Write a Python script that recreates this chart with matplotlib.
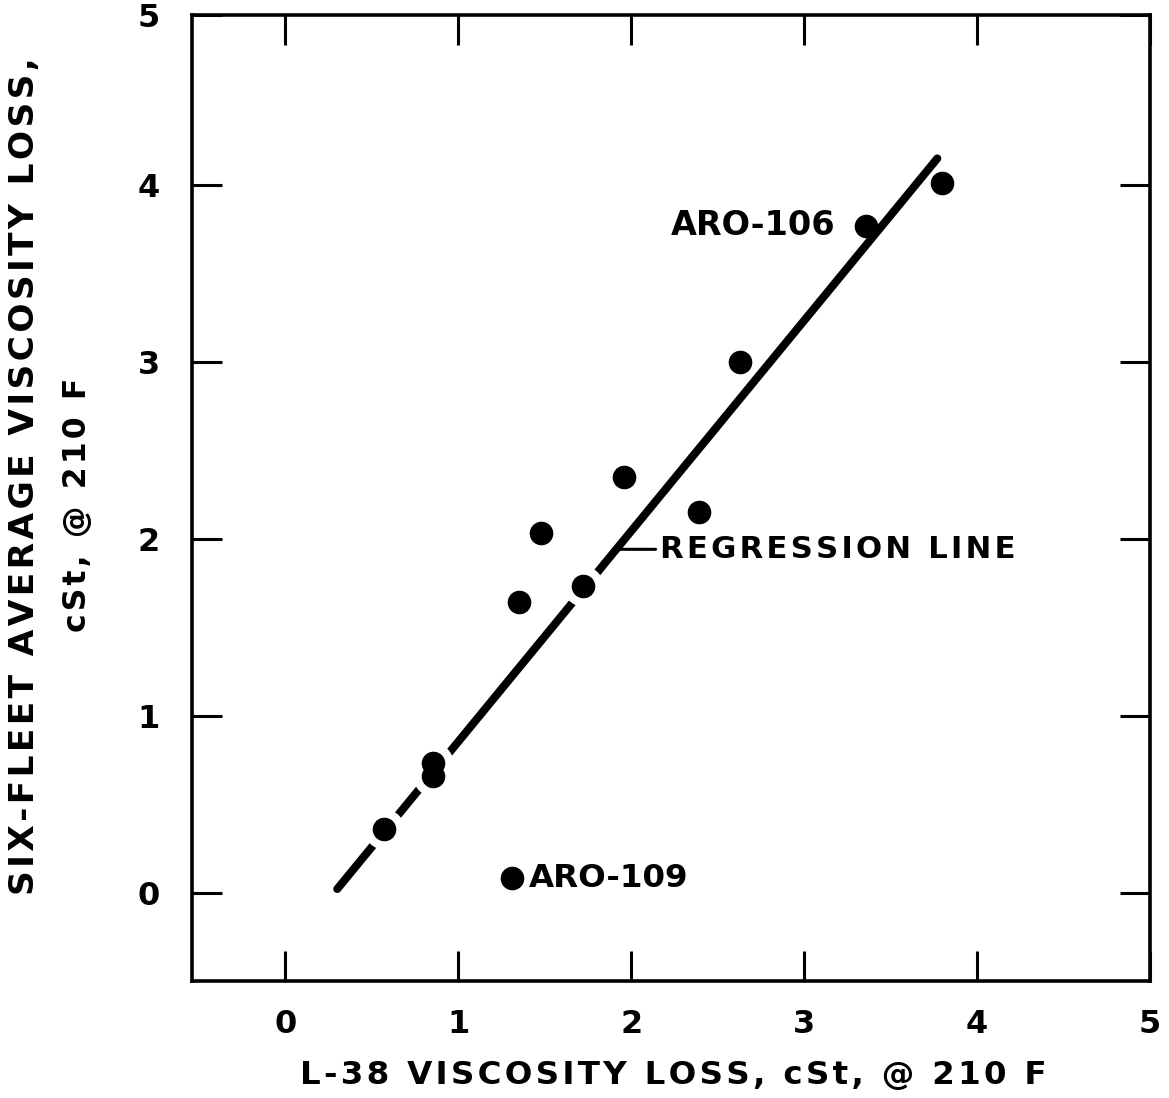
import numpy as np
import matplotlib
matplotlib.use("Agg")
import matplotlib.pyplot as plt
from matplotlib.text import Text

# L-38 viscosity loss vs six-fleet average viscosity loss (cSt @ 210 F)
l38_loss = [0.57, 0.855, 0.855, 1.31, 1.35, 1.48, 1.72, 1.96, 2.39, 2.63, 3.36, 3.80]
fleet_loss = [0.36, 0.73, 0.66, 0.08, 1.64, 2.03, 1.73, 2.35, 2.15, 3.00, 3.77, 4.01]

# regression line as drawn
REG_SLOPE = 1.19
REG_INTERCEPT = -0.337
REG_X = [0.30, 3.77]

x_ticks = [0, 1, 2, 3, 4, 5]
y_ticks = [0, 1, 2, 3, 4, 5]

FONT = dict(family="DejaVu Sans", weight="bold", size=23)
HAIR = "\u200a"

W, H = 1169, 1098
fig = plt.figure(figsize=(W / 100, H / 100), dpi=100)
ax = fig.add_axes([192 / W, 1 - 981 / H, (1150 - 192) / W, (981 - 15) / H])
renderer = fig.canvas.get_renderer()


def track(t, target_px, vertical=False, max_n=2, slack=0.08):
    """Letter-space a text evenly (hair spaces) and nudge its size to span target_px."""
    base = t.get_text()
    size0 = t.get_fontsize()
    best = None
    for n in range(max_n + 1):
        s = (HAIR * n).join(base)
        t.set_text(s)
        t.set_fontsize(size0)
        bb = Text.get_window_extent(t, renderer)
        w = bb.height if vertical else bb.width
        size = size0 * target_px / w
        size = min(max(size, size0 * (1 - slack)), size0 * (1 + slack))
        err = abs(w * size / size0 - target_px)
        if best is None or err < best[0]:
            best = (err, s, size)
    t.set_text(best[1])
    t.set_fontsize(best[2])
    return t


reg_x = np.array(REG_X)
reg_y = REG_INTERCEPT + REG_SLOPE * reg_x
ax.plot(reg_x, reg_y, color="black", lw=5.8, solid_capstyle="round", zorder=2)

# the line is broken where a point sits on it
xs = np.array(l38_loss)
ys = np.array(fleet_loss)
on_line = np.abs(ys - (REG_INTERCEPT + REG_SLOPE * xs)) < 0.1
ax.plot(xs[on_line], ys[on_line], "o", ms=29, color="white", mec="none", zorder=3)
ax.plot(xs, ys, "o", ms=17, color="black", mec="none", zorder=4)

ax.set_xlim(-0.54, 5.0)
ax.set_ylim(-0.5, 4.96)
ax.set_xticks(x_ticks)
# the top "5" sits on the frame edge
ax.set_yticks(y_ticks[:-1] + [ax.get_ylim()[1]])
ax.set_xticklabels([str(t) for t in x_ticks])
ax.set_yticklabels([str(t) for t in y_ticks])
ax.tick_params(direction="in", length=21.5, width=2.2, top=True, right=True)
ax.tick_params(axis="x", pad=20)
ax.tick_params(axis="y", pad=23)
for lab in ax.get_xticklabels() + ax.get_yticklabels():
    lab.set_fontfamily(FONT["family"])
    lab.set_fontweight(FONT["weight"])
    lab.set_fontsize(FONT["size"])
for sp in ax.spines.values():
    sp.set_linewidth(2.6)

# labels
a106 = ax.annotate("ARO-106", xy=(l38_loss[10], fleet_loss[10]), xytext=(-22, 0),
                   textcoords="offset points", ha="right", va="center", zorder=5, **FONT)
a109 = ax.annotate("ARO-109", xy=(l38_loss[3], fleet_loss[3]), xytext=(12, 0),
                   textcoords="offset points", ha="left", va="center", zorder=5, **FONT)
track(a106, 165)
track(a109, 160)

lead_y = 1.94
lead_x = (lead_y - REG_INTERCEPT) / REG_SLOPE
reg_lab = ax.annotate("REGRESSION LINE", xy=(lead_x, lead_y), xytext=(2.165, lead_y),
                      ha="left", va="center", zorder=5,
                      arrowprops=dict(arrowstyle="-", lw=2.2, color="black",
                                      shrinkA=1, shrinkB=0), **FONT)
track(reg_lab, 355)

xl = fig.text(673 / W, 1 - 1075 / H, "L-38 VISCOSITY LOSS, cSt, @ 210 F",
              ha="center", va="center", **FONT)
yl1 = fig.text(25 / W, 1 - 476 / H, "SIX-FLEET AVERAGE VISCOSITY LOSS,",
               ha="center", va="center", rotation=90, **FONT)
yl2 = fig.text(77 / W, 1 - 505 / H, "cSt, @ 210 F",
               ha="center", va="center", rotation=90, **FONT)
track(xl, 747)
track(yl1, 843, vertical=True)
track(yl2, 256, vertical=True)

fig.savefig("out.png", dpi=100)
